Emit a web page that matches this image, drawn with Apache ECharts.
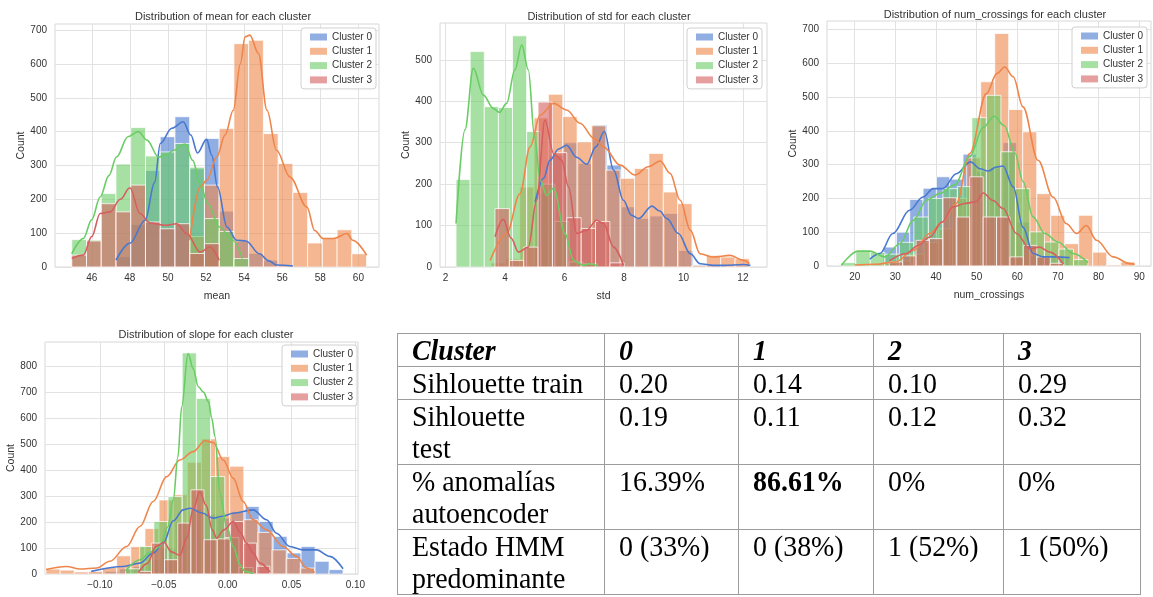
<!DOCTYPE html>
<html>
<head>
<meta charset="utf-8">
<script src="https://cdn.jsdelivr.net/npm/echarts@6/dist/echarts.min.js"></script>
<style>
  html, body { margin: 0; padding: 0; background: #fff; width: 1153px; height: 597px; overflow: hidden; }
  #chart { position: absolute; left: 0; top: 0; width: 1153px; height: 597px; }
  #stats { position: absolute; border-collapse: collapse; table-layout: fixed;
           font-family: 'Liberation Serif', 'Times New Roman', serif; font-size: 30px; line-height: 32px; color: #000; }
  #stats td { border: 1.5px solid #9c9c9c; padding: 0 0 0 14px; vertical-align: top; white-space: nowrap; overflow: hidden; }
  #stats td span { display: inline-block; transform: scaleX(0.93); transform-origin: 0 50%; }
</style>
</head>
<body>
<div id="chart"></div>
<table id="stats"></table>
<script>
// ---------- data ----------
const CLUSTERS = ['Cluster 0', 'Cluster 1', 'Cluster 2', 'Cluster 3'];

// mean: per-cluster first bin edge, bin width and counts
const meanBinStart = [47.27, 51.14, 44.95, 44.95];
const meanBinWidth = [0.774, 0.774, 0.774, 0.774];
const meanCounts = [
  [30, 125, 285, 385, 444, 290, 380, 165, 75, 40, 20, 5],
  [90, 242, 409, 660, 670, 394, 306, 220, 71, 86, 110, 39],
  [81, 80, 217, 304, 412, 328, 340, 365, 295, 143, 105, 25],
  [35, 77, 187, 163, 242, 133, 113, 128, 40, 69]
];
const meanKde = [
  [[47.27,20],[48.0,70],[48.8,138],[49.3,250],[49.6,365],[50.2,410],[50.8,429],[51.2,390],[51.55,337],[52.03,377],[52.3,330],[52.6,237],[53.1,118],[53.6,79],[54.1,77],[54.8,39],[55.3,18],[55.7,6],[56.56,3]],
  [[51.14,79],[51.7,237],[52.03,256],[52.56,325],[53.0,390],[53.43,463],[53.8,600],[54.05,680],[54.3,685],[54.75,631],[55.2,463],[55.7,345],[56.4,266],[57.3,177],[57.7,108],[58.15,84],[58.7,84],[59.4,99],[59.7,79],[60.43,35]],
  [[44.95,39],[45.56,84],[46.0,140],[46.44,207],[46.9,270],[47.3,325],[47.9,385],[48.45,400],[48.9,375],[49.5,325],[49.9,330],[50.3,345],[50.9,363],[51.3,315],[51.7,242],[52.1,187],[52.7,118],[53.4,79],[53.9,25]],
  [[44.95,25],[45.56,35],[46.0,90],[46.44,158],[46.96,163],[47.5,200],[48.0,234],[48.53,158],[49.06,130],[49.9,123],[50.46,128],[50.98,99],[51.7,44],[52.2,59],[52.69,20]]
];
const meanTicksX = [46, 48, 50, 52, 54, 56, 58, 60];
const meanTicksY = [0, 100, 200, 300, 400, 500, 600, 700];

// std
const stdBinStart = [5.01, 3.525, 2.35, 3.66];
const stdBinWidth = [0.483, 0.483, 0.475, 0.483];
const stdCounts = [
  [180, 270, 300, 250, 343, 246, 145, 117, 123, 129, 40, 5, 3, 2, 4],
  [10, 20, 193, 360, 417, 363, 302, 341, 234, 214, 238, 274, 181, 153, 3, 28, 24, 20],
  [211, 520, 387, 385, 558, 327, 200, 110, 12, 8],
  [141, 16, 48, 398, 276, 119, 93, 110, 10]
];
const stdKde = [
  [[5.01,157],[5.3,215],[5.51,258],[5.8,285],[6.07,294],[6.4,265],[6.75,248],[7.05,290],[7.34,327],[7.65,234],[7.98,161],[8.25,125],[8.49,117],[8.94,147],[9.2,135],[9.44,117],[9.83,81],[10.23,32],[10.56,8],[11.0,4],[11.35,4],[12.02,6],[12.25,4]],
  [[3.5,16],[4.05,81],[4.5,177],[4.84,290],[5.18,367],[5.63,395],[6.07,379],[6.52,347],[7.0,310],[7.31,290],[7.87,246],[8.37,222],[8.82,242],[9.22,256],[9.55,226],[9.89,161],[10.23,89],[10.56,32],[11.01,24],[11.57,28],[12.02,16],[12.22,8]],
  [[2.35,105],[2.65,331],[2.93,480],[3.27,415],[3.6,383],[3.81,373],[4.05,395],[4.33,476],[4.56,536],[4.78,476],[4.99,315],[5.18,210],[5.4,173],[5.63,190],[6.02,80],[6.3,16],[6.64,4],[6.85,8],[7.1,3]],
  [[3.66,73],[3.94,115],[4.2,70],[4.45,36],[4.78,48],[5.06,161],[5.34,355],[5.63,274],[5.9,258],[6.13,194],[6.41,81],[6.75,89],[7.08,113],[7.31,105],[7.65,48],[7.98,4]]
];
const stdTicksX = [2, 4, 6, 8, 10, 12];
const stdTicksY = [0, 100, 200, 300, 400, 500];

// num_crossings
const crossBinStart = [23.7, 20.0, 16.7, 28.5];
const crossBinWidth = [3.28, 3.445, 3.57, 3.3];
const crossCounts = [
  [5, 56, 100, 197, 230, 264, 257, 331, 280, 290, 365, 130, 30, 25, 25],
  [3, 5, 8, 15, 35, 70, 110, 200, 320, 545, 688, 463, 397, 214, 150, 66, 150, 41, 3, 12],
  [10, 46, 40, 35, 70, 145, 200, 229, 235, 439, 505, 338, 229, 101, 71, 50, 19],
  [12, 30, 76, 81, 202, 145, 264, 145, 145, 27, 61, 27, 8]
];
const crossKde = [
  [[23.7,20],[26.2,37],[29.4,96],[33.5,165],[36.8,204],[39.3,229],[41.7,229],[45.0,273],[48.5,308],[50.8,288],[52.8,281],[54.9,293],[56.5,296],[59.0,234],[61.4,115],[63.9,37],[66.4,27],[69.6,27],[72.9,25]],
  [[20.0,3],[25.0,5],[30.0,12],[34.4,46],[38.5,96],[41.5,130],[45.0,185],[48.3,333],[52.4,510],[55.0,570],[56.9,589],[59.0,560],[61.4,471],[65.1,313],[68.8,204],[72.1,125],[74.6,96],[77.0,120],[79.5,76],[83.6,27],[87.7,7],[88.9,5]],
  [[16.7,2],[20.8,44],[23.7,44],[27.4,27],[31.1,66],[34.4,135],[37.7,195],[41.0,215],[44.6,240],[48.3,324],[51.6,410],[54.3,443],[56.8,415],[59.4,335],[61.4,250],[63.9,145],[66.8,96],[70.0,71],[73.7,37],[77.4,10]],
  [[28.5,15],[32.7,37],[35.5,60],[38.5,86],[41.5,130],[44.2,175],[47.0,185],[49.9,190],[51.6,216],[54.0,194],[56.5,170],[59.8,96],[63.1,51],[65.5,56],[68.0,41],[71.4,5]]
];
const crossTicksX = [20, 30, 40, 50, 60, 70, 80, 90];
const crossTicksY = [0, 100, 200, 300, 400, 500, 600, 700];

// slope
const slopeBinStart = [-0.1068, -0.1422, -0.0800, -0.0700];
const slopeBinWidth = [0.01095, 0.01106, 0.0111, 0.0103];
const slopeCounts = [
  [5, 10, 20, 30, 55, 100, 200, 250, 230, 215, 240, 260, 202, 145, 81, 106, 49, 17],
  [19, 15, 8, 10, 25, 70, 105, 175, 285, 305, 430, 520, 452, 415, 209, 160, 93, 60, 23],
  [20, 106, 202, 298, 851, 676, 375, 140, 25],
  [10, 119, 55, 196, 324, 132, 135, 202, 119, 30]
];
const slopeKde = [
  [[-0.1068,10],[-0.0817,29],[-0.0687,42],[-0.0583,81],[-0.0504,119],[-0.0426,205],[-0.0348,247],[-0.0296,253],[-0.02,235],[-0.0113,215],[-0.004,222],[0.0043,234],[0.0199,247],[0.0304,209],[0.0382,157],[0.0486,106],[0.059,93],[0.0695,93],[0.0799,68],[0.0903,20]],
  [[-0.1422,17],[-0.1261,29],[-0.1156,19],[-0.1026,23],[-0.0922,49],[-0.0791,106],[-0.0687,183],[-0.0583,279],[-0.0478,375],[-0.0374,439],[-0.027,471],[-0.0179,513],[-0.0113,506],[-0.0035,439],[0.0043,369],[0.0121,279],[0.0199,209],[0.0304,170],[0.0434,106],[0.0538,68],[0.0617,23],[0.068,5]],
  [[-0.080,12],[-0.0687,55],[-0.060,85],[-0.053,106],[-0.047,180],[-0.0426,285],[-0.039,450],[-0.036,644],[-0.031,849],[-0.027,790],[-0.023,721],[-0.019,700],[-0.015,663],[-0.0125,600],[-0.0099,528],[-0.0061,311],[-0.0008,183],[0.0044,106],[0.0096,36],[0.0134,10],[0.0199,2]],
  [[-0.070,5],[-0.063,40],[-0.056,106],[-0.050,122],[-0.044,85],[-0.0374,72],[-0.032,140],[-0.027,250],[-0.0218,317],[-0.017,265],[-0.012,170],[-0.0087,138],[-0.003,170],[0.0043,202],[0.010,160],[0.0147,119],[0.020,80],[0.0252,42],[0.033,8]]
];
const slopeTicksX = [-0.10, -0.05, 0.00, 0.05, 0.10];
const slopeTicksY = [0, 100, 200, 300, 400, 500, 600, 700, 800];

// summary table
const tableHeader = ['Cluster', '0', '1', '2', '3'];
const rowLabels = [['Sihlouette train'], ['Sihlouette', 'test'], ['% anomalías', 'autoencoder'], ['Estado HMM', 'predominante']];
const silhouetteTrain = ['0.20', '0.14', '0.10', '0.29'];
const silhouetteTest = ['0.19', '0.11', '0.12', '0.32'];
const anomalyShare = ['16.39%', '86.61%', '0%', '0%'];
const hmmState = ['0 (33%)', '0 (38%)', '1 (52%)', '1 (50%)'];

// ---------- layout & style ----------
const FONT = "'Liberation Sans', Arial, sans-serif";
const TEXT = '#333333';
const GRID_LINE = '#e2e2e2';
const PALETTE = [[72,120,208],[238,133,74],[106,204,100],[214,95,95]];
const BAR_ALPHA = 0.6;

const PANELS = [
  { feature: 'mean', start: meanBinStart, width: meanBinWidth, counts: meanCounts, kde: meanKde, xTicks: meanTicksX, yTicks: meanTicksY, decimals: 0 },
  { feature: 'std', start: stdBinStart, width: stdBinWidth, counts: stdCounts, kde: stdKde, xTicks: stdTicksX, yTicks: stdTicksY, decimals: 0 },
  { feature: 'num_crossings', start: crossBinStart, width: crossBinWidth, counts: crossCounts, kde: crossKde, xTicks: crossTicksX, yTicks: crossTicksY, decimals: 0 },
  { feature: 'slope', start: slopeBinStart, width: slopeBinWidth, counts: slopeCounts, kde: slopeKde, xTicks: slopeTicksX, yTicks: slopeTicksY, decimals: 2 }
];
const LAYOUT = [
  { grid: { left: 55, top: 24, width: 324, height: 243 }, xMin: 44.07, xMax: 61.08, yMax: 718, legend: { left: 301, top: 28 }, titleX: 218, titleY: 6 },
  { grid: { left: 440, top: 23, width: 327, height: 244 }, xMin: 1.81, xMax: 12.81, yMax: 589, legend: { left: 687, top: 28 }, titleX: 604, titleY: 6 },
  { grid: { left: 827, top: 21, width: 324, height: 245 }, xMin: 13.18, xMax: 92.9, yMax: 725, legend: { left: 1072, top: 27 }, titleX: 990, titleY: 4 },
  { grid: { left: 45, top: 342, width: 313, height: 232 }, xMin: -0.143, xMax: 0.102, yMax: 893, legend: { left: 282, top: 345 }, titleX: 201, titleY: 324 }
];
const TABLE_LAYOUT = { left: 397, top: 333, colWidths: [207, 134, 135, 130, 137] };

function rgba(c, a) { return 'rgba(' + c[0] + ',' + c[1] + ',' + c[2] + ',' + a + ')'; }
function binsOf(start, width, counts) {
  return counts.map((n, i) => [start + i * width, start + (i + 1) * width, n]);
}
function renderBin(params, api) {
  const top = api.coord([api.value(0), api.value(2)]);
  const base = api.coord([api.value(1), 0]);
  return {
    type: 'rect',
    shape: { x: top[0], y: top[1], width: base[0] - top[0], height: base[1] - top[1] },
    style: { fill: api.visual('color'), stroke: 'rgba(255,255,255,0.75)', lineWidth: 1 }
  };
}
function tickText(decimals) {
  return v => (decimals ? Number(v).toFixed(decimals) : String(Math.round(v))).replace('-', '\u2212');
}

const barSeries = [], lineSeries = [];
PANELS.forEach((p, pi) => {
  for (let c = 0; c < CLUSTERS.length; c++) {
    barSeries.push({
      type: 'custom', name: CLUSTERS[c], xAxisIndex: pi, yAxisIndex: pi,
      data: binsOf(p.start[c], p.width[c], p.counts[c]),
      encode: { x: [0, 1], y: 2 },
      itemStyle: { color: rgba(PALETTE[c], BAR_ALPHA) },
      renderItem: renderBin, z: 2, silent: true
    });
    lineSeries.push({
      type: 'line', name: CLUSTERS[c] + ' density', xAxisIndex: pi, yAxisIndex: pi,
      data: p.kde[c], showSymbol: false, symbol: 'none',
      smooth: 0.35, smoothMonotone: 'x',
      lineStyle: { color: rgba(PALETTE[c], 1), width: 1.6 },
      itemStyle: { color: rgba(PALETTE[c], 1) },
      z: 3, silent: true
    });
  }
});

const option = {
  animation: false,
  backgroundColor: '#ffffff',
  title: PANELS.map((p, i) => ({
    text: 'Distribution of ' + p.feature + ' for each cluster',
    left: LAYOUT[i].titleX, top: LAYOUT[i].titleY, textAlign: 'center',
    textStyle: { fontFamily: FONT, fontSize: 11, fontWeight: 'normal', color: TEXT }
  })),
  grid: LAYOUT.map(l => Object.assign({ show: true, borderColor: '#d8d8d8', borderWidth: 1, backgroundColor: '#fff', containLabel: false, outerBoundsMode: 'none' }, l.grid)),
  xAxis: PANELS.map((p, i) => ({
    type: 'value', gridIndex: i, min: LAYOUT[i].xMin, max: LAYOUT[i].xMax,
    name: p.feature, nameLocation: 'middle', nameGap: 24,
    nameTextStyle: { fontFamily: FONT, fontSize: 10.5, color: TEXT },
    axisLine: { show: false },
    axisTick: { show: false, customValues: p.xTicks },
    axisLabel: { customValues: p.xTicks, fontFamily: FONT, fontSize: 10, color: TEXT, margin: 6, formatter: tickText(p.decimals) },
    splitLine: { show: true, lineStyle: { color: GRID_LINE, width: 1 } }
  })),
  yAxis: PANELS.map((p, i) => ({
    type: 'value', gridIndex: i, min: 0, max: LAYOUT[i].yMax,
    name: 'Count', nameLocation: 'middle', nameGap: 28, nameRotate: 90,
    nameTextStyle: { fontFamily: FONT, fontSize: 10.5, color: TEXT },
    axisLine: { show: false },
    axisTick: { show: false, customValues: p.yTicks },
    axisLabel: { customValues: p.yTicks, fontFamily: FONT, fontSize: 10, color: TEXT, margin: 8 },
    splitLine: { show: true, lineStyle: { color: GRID_LINE, width: 1 } }
  })),
  legend: LAYOUT.map(l => ({
    data: CLUSTERS, orient: 'vertical', left: l.legend.left, top: l.legend.top,
    icon: 'rect', itemWidth: 17, itemHeight: 7, itemGap: 2.3,
    padding: [3, 4, 3, 9], selectedMode: false,
    backgroundColor: 'rgba(255,255,255,0.85)', borderColor: '#d0d0d0', borderWidth: 1, borderRadius: 3,
    textStyle: { fontFamily: FONT, fontSize: 10, color: TEXT, lineHeight: 12 }
  })),
  series: barSeries.concat(lineSeries)
};

const chart = echarts.init(document.getElementById('chart'), null, { renderer: 'canvas' });
chart.setOption(option);

// ---------- summary table ----------
(function buildTable() {
  const tbl = document.getElementById('stats');
  tbl.style.left = TABLE_LAYOUT.left + 'px';
  tbl.style.top = TABLE_LAYOUT.top + 'px';
  const cg = document.createElement('colgroup');
  TABLE_LAYOUT.colWidths.forEach(w => { const col = document.createElement('col'); col.style.width = w + 'px'; cg.appendChild(col); });
  tbl.appendChild(cg);
  tbl.style.width = TABLE_LAYOUT.colWidths.reduce((a, b) => a + b, 0) + 'px';

  const headRow = tbl.insertRow();
  tableHeader.forEach(h => {
    const td = headRow.insertCell();
    td.innerHTML = '<span><b><i>' + h + '</i></b></span>';
  });
  const maxAnomaly = Math.max.apply(null, anomalyShare.map(v => parseFloat(v)));
  const body = [silhouetteTrain, silhouetteTest, anomalyShare, hmmState];
  body.forEach((vals, r) => {
    const tr = tbl.insertRow();
    const lab = tr.insertCell();
    lab.innerHTML = '<span>' + rowLabels[r].join('<br>') + '</span>';
    vals.forEach(v => {
      const td = tr.insertCell();
      const bold = vals === anomalyShare && parseFloat(v) === maxAnomaly;
      td.innerHTML = '<span>' + (bold ? '<b>' + v + '</b>' : v) + '</span>';
    });
  });
})();
</script>
</body>
</html>
